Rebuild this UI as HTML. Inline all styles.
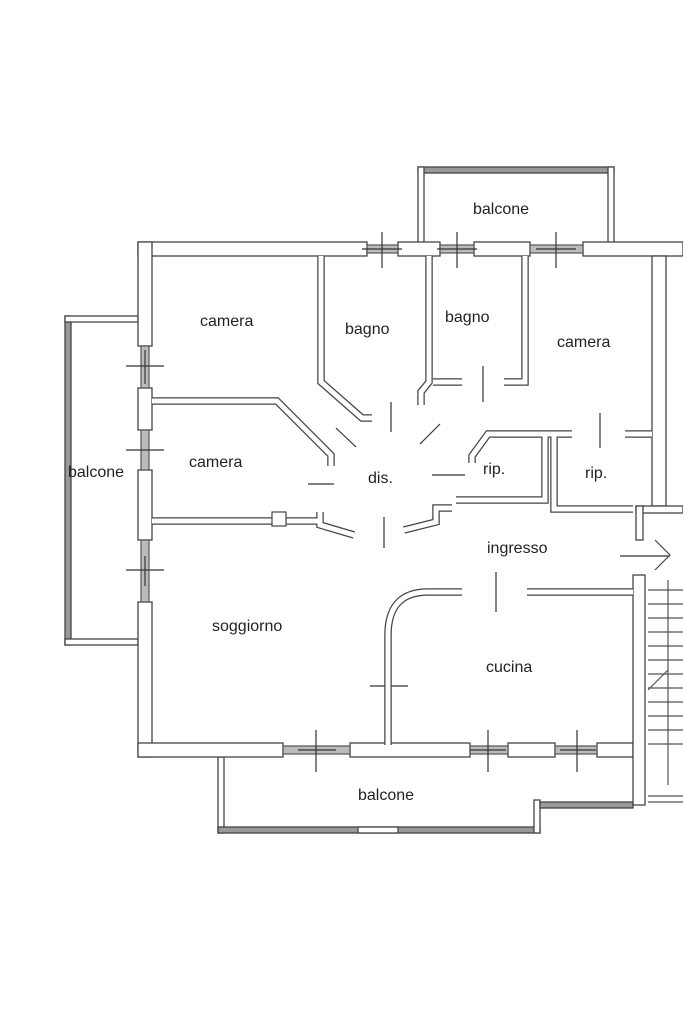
<!DOCTYPE html>
<html><head><meta charset="utf-8"><style>
html,body{margin:0;padding:0;background:#fff;width:683px;height:1024px;overflow:hidden}
svg{display:block}
text{font-family:"Liberation Sans",sans-serif;font-size:16px;fill:#222}
</style></head><body>
<svg width="683" height="1024" viewBox="0 0 683 1024" xmlns="http://www.w3.org/2000/svg">
<g fill="#fff" stroke="#444" stroke-width="1.3">
<!-- top balcony -->
<rect x="418" y="167" width="196" height="6" fill="#999"/>
<rect x="418" y="167" width="6" height="76"/>
<rect x="608" y="167" width="6" height="76"/>
<!-- left balcony -->
<rect x="65" y="316" width="6" height="329" fill="#999"/>
<rect x="65" y="316" width="73" height="6"/>
<rect x="65" y="639" width="73" height="6"/>
<!-- bottom balcony -->
<rect x="218" y="757" width="6" height="76"/>
<rect x="218" y="827" width="322" height="6" fill="#999"/>
<rect x="358" y="827" width="40" height="6"/>
<rect x="534" y="800" width="6" height="33"/>
<rect x="540" y="802" width="93" height="6" fill="#999"/>
<!-- outer walls -->
<rect x="138" y="242" width="229" height="14"/>
<rect x="398" y="242" width="42" height="14"/>
<rect x="474" y="242" width="56" height="14"/>
<rect x="583" y="242" width="100" height="14"/>
<rect x="138" y="242" width="14" height="104"/>
<rect x="138" y="388" width="14" height="42"/>
<rect x="138" y="470" width="14" height="70"/>
<rect x="138" y="602" width="14" height="155"/>
<rect x="138" y="743" width="145" height="14"/>
<rect x="350" y="743" width="120" height="14"/>
<rect x="508" y="743" width="47" height="14"/>
<rect x="597" y="743" width="36" height="14"/>
<rect x="633" y="575" width="12" height="230"/>
<rect x="652" y="256" width="14" height="250"/>
<rect x="636" y="506" width="47" height="7"/>
<rect x="636" y="506" width="7" height="34"/>
</g>
<!-- windows -->
<g stroke="#555" stroke-width="1.2" fill="#bbb">
<rect x="367" y="245" width="31" height="8"/><rect x="440" y="245" width="34" height="8"/><rect x="530" y="245" width="53" height="8"/>
<rect x="141" y="346" width="8" height="42"/><rect x="141" y="430" width="8" height="40"/><rect x="141" y="540" width="8" height="62"/>
<rect x="283" y="746" width="67" height="8"/><rect x="470" y="746" width="38" height="8"/><rect x="555" y="746" width="42" height="8"/>
</g>
<g stroke="#333" stroke-width="1.2" fill="none">
<path d="M382 232V268M362 249H402M457 232V268M437 249H477M556 232V268M536 249H576"/>
<path d="M126 366H164M145 350V384M126 450H164M126 570H164M145 556V586"/>
<path d="M316 730V772M298 750H336M488 730V772M470 750H506M577 730V772M560 750H596"/>
<!-- door leaves -->
<path d="M391 402V432M336 428L356 447M420 444L440 424M308 484H334M432 475H465M384 517V548M483 366V402M600 413V448M496 572V612M370 686H408M620 556H670"/>
</g>
<!-- interior walls -->
<g fill="none" stroke="#444" stroke-width="7.5" stroke-linejoin="miter"><path d="M321 256V382L362 418H372"/><path d="M429 256V382L421 392V405"/><path d="M525 256V382H504"/><path d="M433 382H462"/><path d="M152 401H277L331 455V466"/><path d="M472 463V456L488 434H572"/><path d="M625 434H652"/><path d="M545 434V500H456"/><path d="M554 434V509H633"/><path d="M152 521H320"/><path d="M320 512V525L354 535"/><path d="M404 530L436 522V508H452"/><path d="M388 745V635Q388 592 428 592H462"/><path d="M527 592H633"/></g>
<g fill="none" stroke="#fff" stroke-width="5"><path d="M321 256V382L362 418H372"/><path d="M429 256V382L421 392V405"/><path d="M525 256V382H504"/><path d="M433 382H462"/><path d="M152 401H277L331 455V466"/><path d="M472 463V456L488 434H572"/><path d="M625 434H652"/><path d="M545 434V500H456"/><path d="M554 434V509H633"/><path d="M152 521H320"/><path d="M320 512V525L354 535"/><path d="M404 530L436 522V508H452"/><path d="M388 745V635Q388 592 428 592H462"/><path d="M527 592H633"/></g>
<rect x="272" y="512" width="14" height="14" fill="#fff" stroke="#444" stroke-width="1.2"/>
<path d="M655 540L670 555L655 570" fill="none" stroke="#444" stroke-width="1.2"/>
<!-- stairs -->
<g stroke="#555" stroke-width="1.2"><path d="M648 590H683M648 604H683M648 618H683M648 632H683M648 646H683M648 660H683M648 674H683M648 688H683M648 702H683M648 716H683M648 730H683M648 744H683M648 796H683M648 802H683M668 580V785"/><path d="M648 690L668 670" fill="none"/></g>
<!-- labels -->
<text x="200" y="326">camera</text>
<text x="345" y="334">bagno</text>
<text x="445" y="322">bagno</text>
<text x="557" y="347">camera</text>
<text x="189" y="467">camera</text>
<text x="68" y="477">balcone</text>
<text x="368" y="483">dis.</text>
<text x="483" y="474">rip.</text>
<text x="585" y="478">rip.</text>
<text x="473" y="214">balcone</text>
<text x="487" y="553">ingresso</text>
<text x="212" y="631">soggiorno</text>
<text x="486" y="672">cucina</text>
<text x="358" y="800">balcone</text>
</svg>
</body></html>
